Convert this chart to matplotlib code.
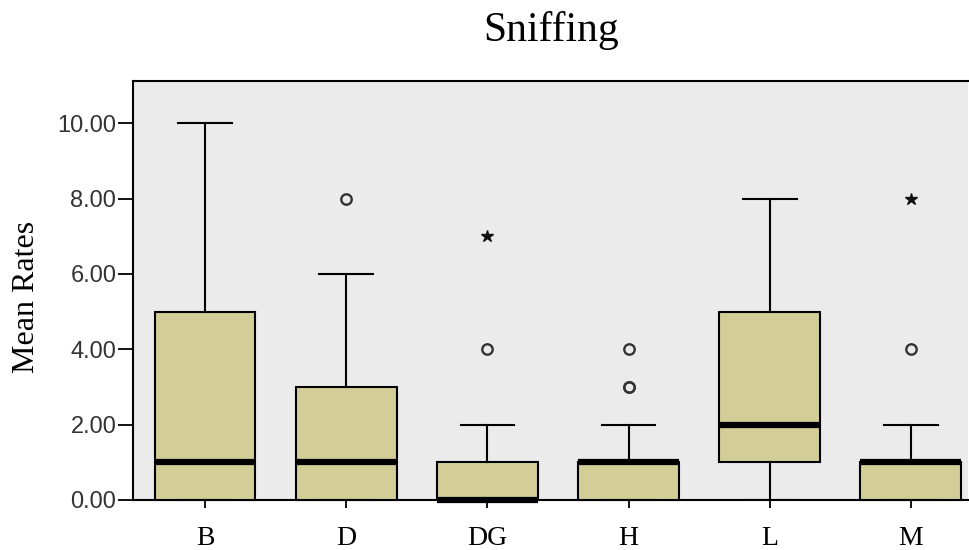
import matplotlib
matplotlib.use("Agg")
import matplotlib.pyplot as plt

# Groups and their box statistics (Mean Rates for sniffing)
groups = ["B", "D", "DG", "H", "L", "M"]
whisker_low = [0, 0, 0, 0, 0, 0]
q1 = [0, 0, 0, 0, 1, 0]
median = [1, 1, 0, 1, 2, 1]
q3 = [5, 3, 1, 1, 5, 1]
whisker_high = [10, 6, 2, 2, 8, 2]
# outliers (open circles) and extremes (stars)
outliers = [[], [8], [4], [3, 3, 4], [], [4]]
extremes = [[], [], [7], [], [], [8]]

stats = []
for i, g in enumerate(groups):
    stats.append(dict(label=g, whislo=whisker_low[i], q1=q1[i], med=median[i],
                      q3=q3[i], whishi=whisker_high[i], fliers=[]))

fig = plt.figure(figsize=(9.69, 5.5), dpi=100)
ax = fig.add_axes([133 / 969, 1 - 500 / 550, 1 - 133 / 969 - 0.001, (500 - 81) / 550])
ax.set_facecolor("#EBEBEB")

positions = list(range(len(groups)))
art = ax.bxp(stats, positions=positions, widths=0.715, patch_artist=True,
             showfliers=False, showcaps=True,
             boxprops=dict(facecolor="#D3CE97", edgecolor="black", linewidth=1.5),
             medianprops=dict(color="black", linewidth=4.5, solid_capstyle="butt"),
             whiskerprops=dict(color="black", linewidth=1.5),
             capprops=dict(color="black", linewidth=1.5),
             capwidths=0.38, zorder=3)
for line in art["medians"]:
    line.set_clip_on(False)
for patch in art["boxes"]:
    patch.set_clip_on(False)

for i in positions:
    if outliers[i]:
        ax.plot([i] * len(outliers[i]), outliers[i], linestyle="none", marker="o",
                markersize=7.5, markerfacecolor="none", markeredgecolor="#333333",
                markeredgewidth=1.7, zorder=4)
    if extremes[i]:
        ax.plot([i] * len(extremes[i]), extremes[i], linestyle="none", marker="*",
                markersize=9, color="#111111", zorder=4)

ax.set_xlim(-0.51, 5.405)
ax.set_ylim(0, 11.12)
ax.set_yticks([0, 2, 4, 6, 8, 10])
ax.set_yticklabels([f"{v:.2f}" for v in [0, 2, 4, 6, 8, 10]],
                   fontfamily="Liberation Sans", fontsize=17, color="#333333")
ax.set_xticks(positions)
ax.set_xticklabels(groups, fontfamily="Liberation Serif", fontsize=20)
ax.tick_params(axis="y", length=11, width=1.3, pad=1)
ax.tick_params(axis="x", length=6, width=1.3, pad=13)
for s in ax.spines.values():
    s.set_linewidth(1.5)
ax.spines["right"].set_visible(False)

fig.text(27 / 969, 1 - 297 / 550, "Mean Rates", rotation=90, ha="center", va="center",
         fontfamily="Liberation Serif", fontsize=23)
fig.text((133 + 969) / 2 / 969, 1 - 41 / 550, "Sniffing", ha="center", va="baseline",
         fontfamily="Liberation Serif", fontsize=30)

fig.savefig("out.png", dpi=100)
